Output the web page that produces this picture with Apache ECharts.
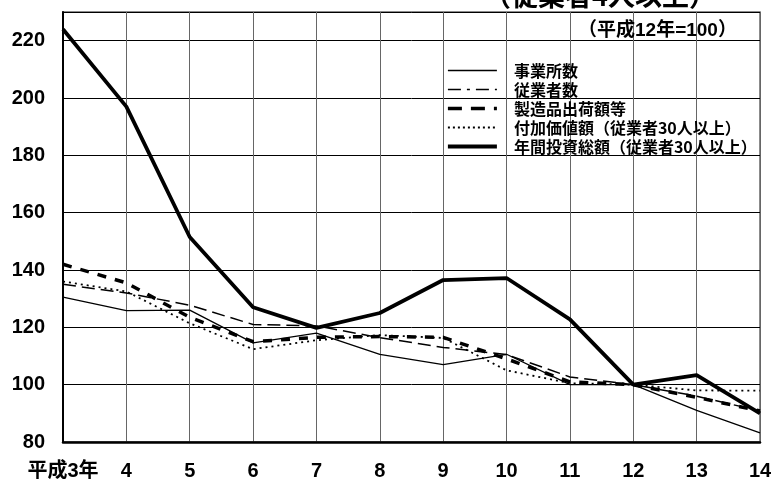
<!DOCTYPE html>
<html><head><meta charset="utf-8">
<script src="https://cdn.jsdelivr.net/npm/echarts@6/dist/echarts.min.js"></script>
<style>html,body{margin:0;padding:0;background:#fff}#c{width:771px;height:479px}</style>
</head><body><div id="c"></div>
<script>
const categories = ['平成3年','4','5','6','7','8','9','10','11','12','13','14'];
const seriesNames = ['事業所数','従業者数','製造品出荷額等','付加価値額（従業者30人以上）','年間投資総額（従業者30人以上）'];
const establishments = [130.5, 125.8, 126, 114.6, 118, 110.6, 107, 110.6, 100, 100, 91, 83.2];
const employees = [135, 132, 127.7, 121, 120.5, 116.4, 113, 110.5, 102.7, 100, 96, 90.8];
const shipments = [142, 135.5, 123.5, 115, 116.5, 116.8, 116.5, 109, 101, 100, 95.6, 90.8];
const valueAdded = [136, 132.5, 121.4, 112.4, 115.5, 117.3, 116.3, 105, 100.5, 100, 98, 97.9];
const investment = [224, 197, 151.5, 127, 119.8, 125, 136.5, 137.2, 122.8, 100, 103.3, 90];
const yTicks = {min: 80, max: 230, interval: 20};
const titleText = '（従業者4人以上）';
const noteText = '（平成12年=100）';

const FONT = '"Liberation Sans", "Noto Sans CJK JP", sans-serif';
const styles = [
  {width: 1.3, type: 'solid'},
  {width: 1.5, type: [13, 6]},
  {width: 3.5, type: [9, 9]},
  {width: 1.8, type: [2, 4]},
  {width: 3.8, type: 'solid'}
];
const legendStyles = [
  {width: 1.3, type: 'solid'},
  {width: 1.5, type: [13, 6, 3, 6]},
  {width: 3.5, type: [14, 9]},
  {width: 2, type: [2, 3]},
  {width: 3.8, type: 'solid'}
];
const chart = echarts.init(document.getElementById('c'));
const dataSets = [establishments, employees, shipments, valueAdded, investment];
chart.setOption({
  backgroundColor: '#fff',
  animation: false,
  grid: {left: 63, right: 11, top: 12, bottom: 37, containLabel: false, outerBoundsMode: 'none', show: true, borderColor: '#666', borderWidth: 1.5, backgroundColor: 'transparent'},
  graphic: [
    {type: 'text', left: 484, top: -18, style: {text: titleText, font: 'bold 27px "Noto Sans CJK JP", sans-serif', fill: '#000'}},
    {type: 'text', left: 578, top: 21, style: {text: noteText, font: 'bold 19px "Liberation Sans", "Noto Sans CJK JP", sans-serif', fill: '#000'}, z: 10}
  ],
  legend: {
    orient: 'vertical', left: 441, top: 57, itemWidth: 49, itemHeight: 12, itemGap: 2,
    itemStyle: {opacity: 0},
    textStyle: {fontFamily: '"Noto Sans CJK JP", sans-serif', fontWeight: 'bold', fontSize: 16, color: '#000', padding: [0,0,0,12], lineHeight: 17},
    data: seriesNames.map((n, i) => ({name: n, itemStyle: {opacity: 0}, lineStyle: {color: '#000', width: legendStyles[i].width, type: legendStyles[i].type, cap: 'butt'}}))
  },
  xAxis: {
    type: 'category', data: categories, boundaryGap: false,
    axisLine: {lineStyle: {color: '#000', width: 2.5}},
    axisTick: {show: false},
    axisLabel: {color: '#000', fontFamily: FONT, fontWeight: 'bold', fontSize: 20, margin: 19, interval: 0},
    splitLine: {show: true, lineStyle: {color: '#666', width: 1}}
  },
  yAxis: {
    type: 'value', min: yTicks.min, max: yTicks.max, interval: yTicks.interval,
    axisLine: {show: true, lineStyle: {color: '#000', width: 2}},
    axisTick: {show: false},
    axisLabel: {color: '#000', fontFamily: FONT, fontWeight: 'bold', fontSize: 20, margin: 18, showMaxLabel: false},
    splitLine: {show: true, lineStyle: {color: '#000', width: 1}}
  },
  series: seriesNames.map((n, i) => ({
    name: n, type: 'line', data: dataSets[i], showSymbol: false, symbol: 'none',
    itemStyle: {color: '#000'},
    lineStyle: {color: '#000', width: styles[i].width, type: styles[i].type, cap: 'butt'}, z: 3
  }))
});
</script></body></html>
